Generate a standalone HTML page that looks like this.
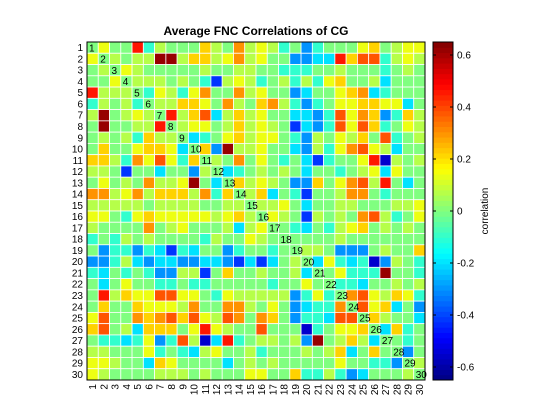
<!DOCTYPE html>
<html><head><meta charset="utf-8"><style>
html,body{margin:0;padding:0;background:#fff;width:560px;height:420px;overflow:hidden}
svg{font-family:"Liberation Sans",Arial,sans-serif}
</style></head><body>
<svg id="chart" width="560" height="420" xmlns="http://www.w3.org/2000/svg">
<text x="256" y="35" text-anchor="middle" font-size="12" font-weight="bold">Average FNC Correlations of CG</text>
<g id="cells"></g>
<g id="labels"></g>
<rect x="87" y="42" width="338" height="338" fill="none" stroke="#000" stroke-width="1"/>
<g id="cbar"></g>
<text transform="translate(488,211) rotate(-90)" text-anchor="middle" font-size="10">correlation</text>
</svg>
<script>
const components = [];
for (let i = 1; i <= 30; i++) components.push(String(i));
const cbarTicks = [-0.6, -0.4, -0.2, 0, 0.2, 0.4, 0.6];
const cbarTickLabels = ["-0.6", "-0.4", "-0.2", "0", "0.2", "0.4", "0.6"];
const climMin = -0.65, climMax = 0.65;
// upper-triangle rows: row i holds columns i+1..30
const upper = [
[.14,0,0,.46,-.1,.07,0,0,0,.22,.07,0,.3,.07,.14,.07,-.1,0,-.3,-.1,0,0,0,.14,.22,0,.07,.14,.14],
[.07,0,.07,.07,.62,.62,.07,.22,.22,.07,.14,.3,.07,.14,0,0,-.3,-.3,-.2,-.2,.46,.22,.38,.38,-.1,.07,.14,.07],
[.14,.07,0,0,0,0,0,.07,0,0,.07,.07,0,0,-.1,-.1,-.1,0,0,.07,0,0,0,-.1,0,.07,0],
[.07,.07,.07,0,.07,0,-.1,-.42,.07,.14,.07,-.1,0,.07,-.1,.07,-.1,.14,.22,0,0,.07,-.2,0,0,0],
[-.1,.14,.07,-.1,.14,.3,0,0,.3,.07,.14,0,0,-.3,-.2,0,0,.14,.22,.3,-.2,-.1,0,0,0],
[.07,.07,.22,.22,.14,0,.3,.07,0,.22,.3,.07,-.1,-.3,-.1,0,.14,.14,.22,.22,.14,.14,-.2,0],
[.46,.07,.22,.38,-.2,.07,.22,.07,.14,0,0,-.2,-.2,-.3,-.1,.38,.14,.3,.22,-.3,-.1,.22,.07],
[.07,.14,.14,0,.07,.22,.07,.14,.07,0,-.42,-.2,-.3,-.1,.38,.14,.38,.22,-.1,0,.14,.07],
[-.2,-.1,0,.14,.22,.07,.14,.14,0,-.1,-.3,.07,0,.14,.07,.22,0,.38,-.1,0,.07],
[.22,-.3,.62,.07,.07,.14,0,0,-.2,-.3,.07,-.1,.14,.3,.38,.14,.07,-.2,0,0],
[.07,0,.3,0,.14,0,-.1,0,-.2,-.42,-.1,0,0,.14,.46,-.55,.07,0,.07],
[-.2,-.1,0,.07,0,.07,0,-.2,0,0,-.1,0,.07,.14,-.2,.14,0,0],
[.22,.07,.14,.07,0,-.3,-.3,.22,0,.14,.3,.38,.07,.46,0,-.2,0],
[.07,.22,-.2,0,-.1,-.42,0,0,.07,.3,.3,0,-.1,0,0,0],
[.07,.07,.14,0,-.2,0,0,.07,.07,0,0,0,.07,.07,.14],
[.14,.07,0,-.42,.07,0,.07,0,.3,.38,.07,-.1,0,.14],
[0,-.1,-.2,0,-.1,.07,.14,.22,0,.07,0,.07,0],
[0,0,0,0,.07,0,0,0,0,0,0,0],
[.07,.07,0,-.3,-.3,-.3,0,.07,0,0,.22],
[-.2,.14,-.1,-.2,-.1,-.55,-.3,.07,0,-.1],
[0,.14,-.1,-.1,-.1,.62,0,0,-.1],
[-.1,-.1,-.2,0,0,.07,0,.07],
[.3,.38,.14,.07,.22,.14,-.1],
[.38,.14,.22,-.2,0,-.3],
[.22,.07,0,0,-.2],
[-.2,.22,-.1,0],
[0,-.1,0],
[-.3,0],
[.07]
];
const diagValue = 0;

const NS = "http://www.w3.org/2000/svg";
const X0 = 87, Y0 = 42, W = 338, H = 338, N = components.length, cs = W / N;
const xPos = i => X0 + i * cs;
const yPos = i => Y0 + i * cs;
function val(i, j) { if (i === j) return diagValue; return i < j ? upper[i][j - i - 1] : upper[j][i - j - 1]; }
function jet(v) {
  let t = (v - climMin) / (climMax - climMin); t = Math.max(0, Math.min(1, t));
  const c = x => Math.round(255 * Math.max(0, Math.min(1, 1.5 - Math.abs(x))));
  return `rgb(${c(4*t-3)},${c(4*t-2)},${c(4*t-1)})`;
}
function mk(tag, attrs) { const e = document.createElementNS(NS, tag); for (const k in attrs) e.setAttribute(k, attrs[k]); return e; }
const cells = document.getElementById('cells');
const labels = document.getElementById('labels');
for (let i = 0; i < N; i++) {
  for (let j = 0; j < N; j++) {
    const r = mk('rect', { x: xPos(j), y: yPos(i), width: cs, height: cs, fill: jet(val(i, j)), stroke: '#fff', 'stroke-width': 0.8 });
    
    
    cells.appendChild(r);
  }
  const d = mk('text', { x: xPos(i) + 2, y: yPos(i) + cs - 2, 'font-size': 10 });
  d.textContent = components[i];
  
  
  labels.appendChild(d);
  const yl = mk('text', { x: X0 - 4, y: yPos(i) + cs / 2 + 3.5, 'text-anchor': 'end', 'font-size': 10 });
  yl.textContent = components[i];
  
  
  labels.appendChild(yl);
  const xl = mk('text', { transform: `translate(${xPos(i) + cs / 2 + 3.5},${Y0 + H + 4}) rotate(-90)`, 'text-anchor': 'end', 'font-size': 10 });
  xl.textContent = components[i];
  
  
  labels.appendChild(xl);
}
// colorbar
const cb = document.getElementById('cbar');
const CX = 433, CW = 20;
const cbY = v => Y0 + H - (v - climMin) / (climMax - climMin) * H;
const steps = 64;
for (let k = 0; k < steps; k++) {
  const v0 = climMin + (climMax - climMin) * k / steps;
  const v1 = climMin + (climMax - climMin) * (k + 1) / steps;
  const r = mk('rect', { x: CX, y: cbY(v1), width: CW, height: cbY(v0) - cbY(v1) + 0.5, fill: jet((v0 + v1) / 2) });
  
  
  cb.appendChild(r);
}
const frame = mk('rect', { x: CX, y: Y0, width: CW, height: H, fill: 'none', stroke: '#000', 'stroke-width': 1 });


cb.appendChild(frame);
cbarTicks.forEach((v, k) => {
  const y = cbY(v);
  cb.appendChild(mk('line', { x1: CX, x2: CX + 3, y1: y, y2: y, stroke: '#000' }));
  cb.appendChild(mk('line', { x1: CX + CW - 3, x2: CX + CW, y1: y, y2: y, stroke: '#000' }));
  const t = mk('text', { x: CX + CW + 4, y: y + 3.5, 'font-size': 10 });
  t.textContent = cbarTickLabels[k];
  
  
  cb.appendChild(t);
});
</script>
</body></html>
